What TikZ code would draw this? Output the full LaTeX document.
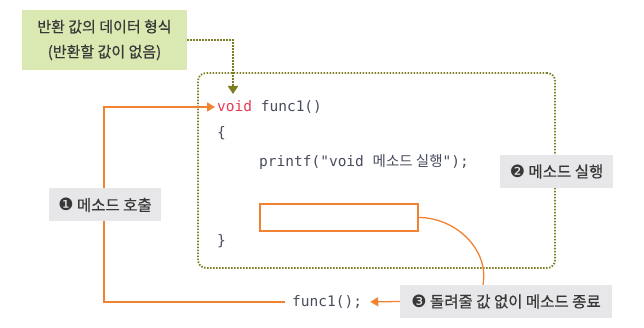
\documentclass[tikz,border=0pt]{standalone}
\usepackage{fontspec}
\setmainfont{Noto Sans CJK KR}
\setmonofont{DejaVu Sans Mono}
\newfontfamily\labelfont{Noto Sans CJK KR}[FakeBold=0.6]
\newfontfamily\dingfont{DejaVu Sans}
\usetikzlibrary{positioning,calc}
\usetikzlibrary{arrows.meta}
\definecolor{CallOrange}{RGB}{240,130,50}
\definecolor{TypeOlive}{RGB}{125,125,35}
\definecolor{NoteGreen}{RGB}{218,232,178}
\definecolor{StepGray}{RGB}{231,231,233}
\definecolor{CodeInk}{RGB}{72,76,92}
\definecolor{KeyRed}{RGB}{232,56,84}
\tikzset{
	code/.style={anchor=west,inner sep=0pt,font=\ttfamily\fontsize{14.5}{17}\selectfont,text=CodeInk},
	stepbox/.style={fill=StepGray,text=black!78,inner sep=0pt,minimum height=33pt,
		font=\labelfont\fontsize{15.5}{17}\selectfont},
	note/.style={fill=NoteGreen,text=black!78,inner sep=0pt,align=center,
		minimum width=165pt,minimum height=60pt,font=\labelfont\fontsize{15}{25}\selectfont},
	frame/.style={draw=TypeOlive,line width=1.8pt,dash pattern=on 1.5pt off 1.5pt,
		rounded corners=8pt,inner sep=0pt},
	retslot/.style={draw=CallOrange,line width=1.3pt,inner sep=0pt},
	callline/.style={draw=CallOrange,line width=1.3pt},
	typeline/.style={draw=TypeOlive,line width=1.8pt,dash pattern=on 1.5pt off 1.5pt},
}
\newcommand\stepno[1]{{\dingfont\fontsize{17}{17}\selectfont#1}}
\begin{document}
\begin{tikzpicture}[x=1pt,y=-1pt]
	\useasboundingbox (0,0) rectangle (644,328);
	\node[note] (rtype) at (104.5,40) {반환 값의 데이터 형식\\(반환할 값이 없음)};
	\node[frame,minimum width=357pt,minimum height=195pt] (scopebox) at (376.5,170.5) {};
	\node[code] (head) at (217,107) {{\color{KeyRed}void} func1()};
	\node[code] (lbrace) at (217,133) {\{};
	\node[code] (body) at (259,162) {printf("void {\rmfamily 메소드 실행}");};
	\node[retslot,minimum width=158pt,minimum height=27pt] (retbox) at (339,217.5) {};
	\node[code] (rbrace) at (217,241) {\}};
	\node[code] (callsite) at (292,302) {func1();};
	\coordinate (turn) at (104,302);
	\coordinate (typetip) at (233,94);
	% call and return
	\draw[callline,-{Triangle[length=8pt,width=9pt]},shorten >=2pt]
		([xshift=-7pt]callsite.west) -- (turn) |- (head.west);
	\draw[typeline,-{Triangle[length=8pt,width=10pt]}] (rtype.east) -| (typetip);
	\node[stepbox,minimum width=112pt] (step1) at (105,205) {\stepno{❶} 메소드 호출};
	\node[stepbox,minimum width=113pt] (step2) at (556.5,171.5) {\stepno{❷} 메소드 실행};
	\node[stepbox,minimum width=212pt] (step3) at (506,301.5) {\stepno{❸} 돌려줄 값 없이 메소드 종료};
	\draw[callline] (retbox.east) to[out=0,in=80] ([xshift=-23pt]step3.north);
	\draw[callline,-{Triangle[length=8pt,width=9pt]},shorten >=8pt] (step3.west) -- (callsite.east);
\end{tikzpicture}
\end{document}
